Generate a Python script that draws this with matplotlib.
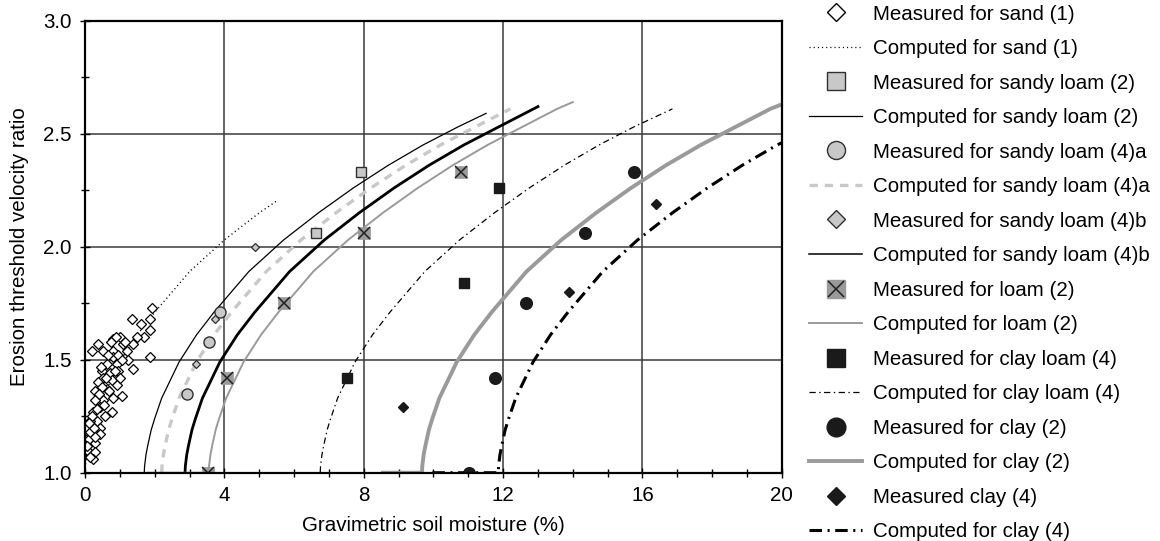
import matplotlib
matplotlib.use('Agg')
import matplotlib.pyplot as plt
from matplotlib.lines import Line2D
from matplotlib.legend_handler import HandlerTuple

plt.rcParams['font.family'] = ['Liberation Sans', 'DejaVu Sans']
plt.rcParams['lines.scale_dashes'] = False

# ---------------- data ----------------
sand_x = [1.92, 1.34, 1.87, 1.87, 1.68, 1.39, 1.00, 0.81, 0.38, 0.19,
          0.53, 0.81, 1.10, 1.20, 1.87, 1.39, 1.24, 0.81, 0.62, 0.91,
          0.48, 0.72, 0.96, 0.53, 0.77, 0.38, 0.91, 0.29, 0.62, 1.05,
          0.81, 0.53, 0.43, 0.77, 0.24, 0.57, 0.34, 0.14, 0.43, 0.05,
          0.19, 0.43, 0.05, 0.29, 0.05, 0.29, 0.24, 0.14,
          0.10, 0.20, 0.30, 0.50, 0.60, 0.70, 0.85, 0.95, 1.05, 0.65,
          0.45, 0.55, 0.35, 0.15, 0.25, 0.10, 0.05, 0.30, 1.15, 1.50,
          1.60, 0.90, 0.75, 1.00, 0.40]
sand_y = [1.73, 1.68, 1.68, 1.63, 1.60, 1.57, 1.60, 1.59, 1.57, 1.54,
          1.54, 1.54, 1.57, 1.54, 1.51, 1.46, 1.50, 1.51, 1.48, 1.48,
          1.45, 1.44, 1.45, 1.42, 1.41, 1.40, 1.39, 1.36, 1.37, 1.34,
          1.33, 1.32, 1.29, 1.27, 1.27, 1.25, 1.23, 1.23, 1.20, 1.20,
          1.18, 1.17, 1.15, 1.13, 1.10, 1.09, 1.06, 1.07,
          1.15, 1.25, 1.32, 1.38, 1.42, 1.36, 1.45, 1.52, 1.50, 1.52,
          1.47, 1.30, 1.28, 1.18, 1.20, 1.22, 1.12, 1.16, 1.58, 1.60,
          1.66, 1.60, 1.58, 1.42, 1.35]

sand_curve_x = [0.0, 0.01, 0.05, 0.10, 0.20, 0.30, 0.50, 0.75, 1.00, 1.50, 2.00, 2.50, 3.00, 3.50, 4.00, 5.00, 5.48]
sand_curve_y = [1.0, 1.03, 1.08, 1.12, 1.19, 1.24, 1.33, 1.41, 1.49, 1.61, 1.71, 1.80, 1.89, 1.96, 2.03, 2.15, 2.20]

sl2_meas_x = [7.93, 6.64]
sl2_meas_y = [2.33, 2.06]
sl2_curve_x = [1.70, 1.71, 1.75, 1.80, 1.90, 2.00, 2.20, 2.45, 2.70, 3.20, 3.70, 4.20, 4.70, 5.20, 5.70,
               6.70, 7.70, 8.70, 9.70, 10.70, 11.51]
sl2_curve_y = [1.0, 1.03, 1.08, 1.12, 1.19, 1.24, 1.33, 1.41, 1.49, 1.61, 1.71, 1.80, 1.89, 1.96, 2.03,
               2.15, 2.26, 2.36, 2.45, 2.53, 2.59]

sl4a_meas_x = [3.88, 3.56, 2.92]
sl4a_meas_y = [1.71, 1.58, 1.35]
sl4a_curve_x = [2.20, 2.21, 2.25, 2.30, 2.40, 2.50, 2.70, 2.95, 3.20, 3.70, 4.20, 4.70, 5.20, 5.70, 6.20,
                7.20, 8.20, 9.20, 10.20, 11.20, 12.21]
sl4a_curve_y = [1.0, 1.03, 1.08, 1.12, 1.19, 1.24, 1.33, 1.41, 1.49, 1.61, 1.71, 1.80, 1.89, 1.96, 2.03,
                2.15, 2.26, 2.36, 2.45, 2.53, 2.61]

sl4b_meas_x = [4.89, 3.74, 3.19]
sl4b_meas_y = [2.00, 1.68, 1.48]
sl4b_curve_x = [2.87, 2.88, 2.92, 2.97, 3.07, 3.17, 3.37, 3.62, 3.87, 4.37, 4.87, 5.37, 5.87, 6.37, 6.87,
                7.87, 8.87, 9.87, 10.87, 11.87, 13.00]
sl4b_curve_y = [1.0, 1.03, 1.08, 1.12, 1.19, 1.24, 1.33, 1.41, 1.49, 1.61, 1.71, 1.80, 1.89, 1.96, 2.03,
                2.15, 2.26, 2.36, 2.45, 2.53, 2.62]

loam_meas_x = [10.78, 8.00, 5.70, 4.07, 3.52]
loam_meas_y = [2.33, 2.06, 1.75, 1.42, 1.00]
loam_curve_x = [1.80, 3.55, 3.56, 3.60, 3.65, 3.75, 3.85, 4.05, 4.30, 4.55, 5.05, 5.55, 6.05, 6.55, 7.05, 7.55,
                8.55, 9.55, 10.55, 11.55, 12.55, 13.55, 14.00]
loam_curve_y = [1.0, 1.0, 1.03, 1.08, 1.12, 1.19, 1.24, 1.33, 1.41, 1.49, 1.61, 1.71, 1.80, 1.89, 1.96, 2.03,
                2.15, 2.26, 2.36, 2.45, 2.53, 2.61, 2.64]

clayloam_meas_x = [7.52, 10.87, 11.89]
clayloam_meas_y = [1.42, 1.84, 2.26]
clayloam_curve_x = [5.50, 6.75, 6.76, 6.80, 6.85, 6.95, 7.05, 7.25, 7.50, 7.75, 8.25, 8.75, 9.25, 9.75, 10.25, 10.75,
                    11.75, 12.75, 13.75, 14.75, 15.75, 16.86]
clayloam_curve_y = [1.0, 1.0, 1.03, 1.08, 1.12, 1.19, 1.24, 1.33, 1.41, 1.49, 1.61, 1.71, 1.80, 1.89, 1.96, 2.03,
                    2.15, 2.26, 2.36, 2.45, 2.53, 2.61]

clay2_meas_x = [15.76, 14.35, 12.67, 11.78, 11.01]
clay2_meas_y = [2.33, 2.06, 1.75, 1.42, 1.00]
clay2_curve_x = [8.55, 9.67, 9.68, 9.72, 9.77, 9.87, 9.97, 10.17, 10.42, 10.67, 11.17, 11.67, 12.17, 12.67, 13.17, 13.67,
                 14.67, 15.67, 16.67, 17.67, 18.67, 19.67, 20.00]
clay2_curve_y = [1.0, 1.0, 1.03, 1.08, 1.12, 1.19, 1.24, 1.33, 1.41, 1.49, 1.61, 1.71, 1.80, 1.89, 1.96, 2.03,
                 2.15, 2.26, 2.36, 2.45, 2.53, 2.61, 2.63]

clay4_meas_x = [16.38, 13.89, 9.13]
clay4_meas_y = [2.19, 1.80, 1.29]
clay4_curve_x = [9.97, 11.86, 11.87, 11.91, 11.96, 12.06, 12.16, 12.36, 12.61, 12.86, 13.36, 13.86, 14.36, 14.86, 15.36, 15.86,
                 16.86, 17.86, 18.86, 19.86, 20.00]
clay4_curve_y = [1.0, 1.0, 1.03, 1.08, 1.12, 1.19, 1.24, 1.33, 1.41, 1.49, 1.61, 1.71, 1.80, 1.89, 1.96, 2.03,
                 2.15, 2.26, 2.36, 2.45, 2.46]

x_ticks = [0, 4, 8, 12, 16, 20]
y_ticks = [1.0, 1.5, 2.0, 2.5, 3.0]

# ---------------- styles ----------------
LIGHT = '#c8c8c8'
MID = '#9a9a9a'
FS = 14.8

fig = plt.figure(figsize=(11.6, 5.41), dpi=100)
ax = fig.add_axes([0.0733, 0.1262, 0.6007, 0.8355])

# curves
ax.plot(sand_curve_x, sand_curve_y, color='black', lw=1.0, dashes=(0.8, 2.2), zorder=3)
ax.plot(sl2_curve_x, sl2_curve_y, color='black', lw=0.9, zorder=3)
ax.plot(sl4a_curve_x, sl4a_curve_y, color=LIGHT, lw=2.4, dashes=(6, 5), zorder=3)
ax.plot(sl4b_curve_x, sl4b_curve_y, color='black', lw=2.0, zorder=3)
ax.plot(loam_curve_x, loam_curve_y, color=MID, lw=1.4, zorder=3)
ax.plot(clayloam_curve_x, clayloam_curve_y, color='black', lw=0.9, dashes=(4.5, 2.5, 1, 2.5), zorder=3)
ax.plot(clay2_curve_x, clay2_curve_y, color=MID, lw=2.8, zorder=3)
ax.plot(clay4_curve_x, clay4_curve_y, color='black', lw=2.2, dashes=(9, 4, 1.5, 4), zorder=3)

# measured points
ax.plot(sand_x, sand_y, ls='none', marker='D', ms=5.4, mfc='white', mec='black', mew=0.9, zorder=4)
ax.plot(sl2_meas_x, sl2_meas_y, ls='none', marker='s', ms=7.8, mfc=LIGHT, mec='#303030', mew=1.0, zorder=4)
ax.plot(sl4a_meas_x, sl4a_meas_y, ls='none', marker='o', ms=8.0, mfc=LIGHT, mec='#303030', mew=1.0, zorder=4)
ax.plot(sl4b_meas_x, sl4b_meas_y, ls='none', marker='D', ms=4.2, mfc=LIGHT, mec='#303030', mew=0.9, zorder=4)
ax.plot(loam_meas_x, loam_meas_y, ls='none', marker='s', ms=8.8, mfc=MID, mec=MID, mew=0.5, zorder=4)
ax.plot(loam_meas_x, loam_meas_y, ls='none', marker='x', ms=8.2, mec='#202020', mew=1.1, zorder=5)
ax.plot(clayloam_meas_x, clayloam_meas_y, ls='none', marker='s', ms=7.8, mfc='#1a1a1a', mec='#1a1a1a', zorder=4)
ax.plot(clay2_meas_x, clay2_meas_y, ls='none', marker='o', ms=8.4, mfc='#1a1a1a', mec='#1a1a1a', zorder=4)
ax.plot(clay4_meas_x, clay4_meas_y, ls='none', marker='D', ms=5.6, mfc='#1a1a1a', mec='#1a1a1a', zorder=4)

# axes formatting
ax.set_xlim(0, 20)
ax.set_ylim(1.0, 3.0)
ax.set_xticks(x_ticks)
ax.set_yticks(y_ticks)
ax.set_xticklabels([str(v) for v in x_ticks])
ax.set_yticklabels(['%.1f' % v for v in y_ticks])
ax.set_xticks(range(0, 21), minor=True)
ax.set_yticks([1.0 + 0.25 * i for i in range(9)], minor=True)
ax.tick_params(which='both', direction='inout', labelsize=FS, colors='black', width=1.0)
ax.tick_params(which='major', length=7, pad=6)
ax.tick_params(which='minor', length=6)
ax.grid(True, which='major', color='#3a3a3a', lw=1.1)
ax.set_axisbelow(True)
for s in ax.spines.values():
    s.set_linewidth(1.6)
    s.set_color('black')
    s.set_zorder(6)

ax.set_xlabel('Gravimetric soil moisture (%)', fontsize=FS, labelpad=8)
ax.set_ylabel('Erosion threshold velocity ratio', fontsize=FS, labelpad=10)

# legend
loam_h = (Line2D([], [], ls='none', marker='s', ms=13, mfc=MID, mec=MID),
          Line2D([], [], ls='none', marker='x', ms=12, mec='#202020', mew=1.1))
handles = [
    Line2D([], [], ls='none', marker='D', ms=9, mfc='white', mec='black', mew=1.0),
    Line2D([], [], color='black', lw=0.9, dashes=(0.8, 2.2)),
    Line2D([], [], ls='none', marker='s', ms=12.5, mfc=LIGHT, mec='#303030', mew=1.0),
    Line2D([], [], color='black', lw=0.9),
    Line2D([], [], ls='none', marker='o', ms=13, mfc=LIGHT, mec='#303030', mew=1.0),
    Line2D([], [], color=LIGHT, lw=2.4, dashes=(6, 5)),
    Line2D([], [], ls='none', marker='D', ms=9, mfc=LIGHT, mec='#303030', mew=1.0),
    Line2D([], [], color='black', lw=1.1),
    loam_h,
    Line2D([], [], color=MID, lw=1.4),
    Line2D([], [], ls='none', marker='s', ms=12.5, mfc='#1a1a1a', mec='#1a1a1a'),
    Line2D([], [], color='black', lw=0.9, dashes=(4.5, 2.5, 1, 2.5)),
    Line2D([], [], ls='none', marker='o', ms=13.5, mfc='#1a1a1a', mec='#1a1a1a'),
    Line2D([], [], color=MID, lw=2.8),
    Line2D([], [], ls='none', marker='D', ms=9.5, mfc='#1a1a1a', mec='#1a1a1a'),
    Line2D([], [], color='black', lw=2.2, dashes=(9, 4, 1.5, 4)),
]
labels = ['Measured for sand (1)', 'Computed for sand (1)',
          'Measured for sandy loam (2)', 'Computed for sandy loam (2)',
          'Measured for sandy loam (4)a', 'Computed for sandy loam (4)a',
          'Measured for sandy loam (4)b', 'Computed for sandy loam (4)b',
          'Measured for loam (2)', 'Computed for loam (2)',
          'Measured for clay loam (4)', 'Computed for clay loam (4)',
          'Measured for clay (2)', 'Computed for clay (2)',
          'Measured clay (4)', 'Computed for clay (4)']
fig.legend(handles, labels, loc='upper left', bbox_to_anchor=(0.692, 1.003),
           frameon=False, fontsize=FS, handlelength=2.6, handletextpad=0.5,
           labelspacing=0.755, borderaxespad=0.2, borderpad=0.1,
           handler_map={tuple: HandlerTuple(ndivide=1, pad=0)})

fig.savefig('out.png', dpi=100)
